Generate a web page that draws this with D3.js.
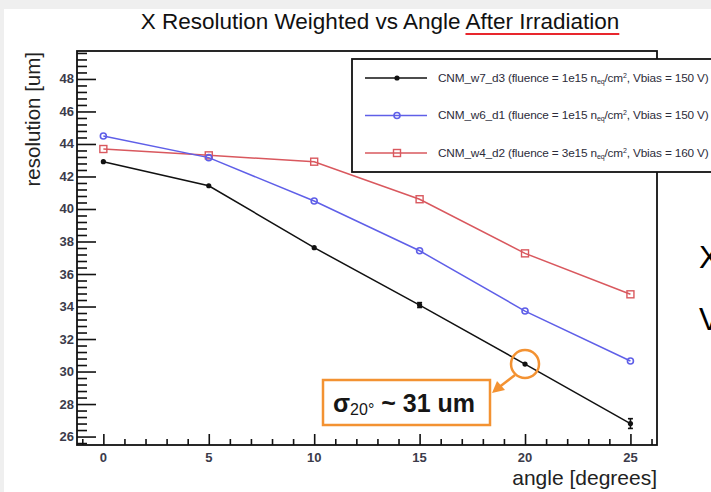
<!DOCTYPE html>
<html>
<head>
<meta charset="utf-8">
<title>X Resolution Weighted vs Angle</title>
<script src="https://d3js.org/d3.v7.min.js"></script>
<style>
  body { margin: 0; background: #fff; }
  svg { display: block; font-family: "Liberation Sans", Arial, sans-serif; }
</style>
</head>
<body>
<svg class="chart"></svg>
<script>
// ---- data ----
var angles = [0, 5, 10, 15, 20, 25];
var w7d3 = [42.91, 41.43, 37.62, 34.09, 30.46, 26.8];
var w7d3Err = [0.05, 0.05, 0.05, 0.15, 0.1, 0.3];
var w6d1 = [44.49, 43.16, 40.49, 37.43, 33.72, 30.65];
var w4d2 = [43.69, 43.3, 42.91, 40.6, 37.27, 34.75];

var seriesNames = ["CNM_w7_d3", "CNM_w6_d1", "CNM_w4_d2"];
var fluences = ["1e15", "1e15", "3e15"];
var vbias = ["150", "150", "160"];

var xMajor = [0, 5, 10, 15, 20, 25];
var yMajor = [26, 28, 30, 32, 34, 36, 38, 40, 42, 44, 46, 48];

var svgWidth = 711, svgHeight = 492;
var plot = {left: 77, right: 657, top: 51, bottom: 445};

var svg = d3.select(".chart").attr("width", svgWidth).attr("height", svgHeight);

// slide background with a faint edge
svg.append("rect").attr("width", svgWidth).attr("height", svgHeight).attr("fill", "#efefef");
svg.append("rect").attr("x", 4).attr("y", 9).attr("width", svgWidth).attr("height", svgHeight).attr("fill", "#fff");

var xScale = d3.scaleLinear().domain([-1.25, 26.26]).range([plot.left, plot.right]);
var yScale = d3.scaleLinear().domain([25.48, 49.72]).range([plot.bottom, plot.top]);

// title, with the red underline under "After Irradiation"
var titleText = "X Resolution Weighted vs Angle After Irradiation";
var title = svg.append("text")
    .attr("x", 380).attr("y", 29)
    .attr("text-anchor", "middle")
    .attr("font-size", 22.5)
    .attr("fill", "#111")
    .text(titleText);
var tNode = title.node();
var cut = titleText.indexOf("After");
var startX = tNode.getStartPositionOfChar(cut).x;
var endX = tNode.getEndPositionOfChar(titleText.length - 1).x;
svg.append("line")
    .attr("x1", startX).attr("x2", endX).attr("y1", 34).attr("y2", 34)
    .attr("stroke", "#e8262d").attr("stroke-width", 2.2);

// frame
svg.append("rect")
    .attr("x", plot.left).attr("y", plot.top)
    .attr("width", plot.right - plot.left).attr("height", plot.bottom - plot.top)
    .attr("fill", "none").attr("stroke", "#111").attr("stroke-width", 1.8);

// y axis: ticks point inward
var yMinor = d3.range(25.6, 49.7, 0.4).filter(function(v) { return Math.abs(v / 2 - Math.round(v / 2)) > 0.01; });
var yAxisMinor = d3.axisRight(yScale).tickValues(yMinor).tickSize(10).tickFormat("");
var yAxisMajor = d3.axisRight(yScale).tickValues(yMajor).tickSize(19).tickFormat("");
[yAxisMinor, yAxisMajor].forEach(function(ax) {
  var g = svg.append("g").attr("transform", "translate(" + plot.left + ",0)").call(ax);
  g.select(".domain").remove();
  g.selectAll("line").attr("stroke", "#111").attr("stroke-width", 1.6);
});
svg.append("g").selectAll("text").data(yMajor).enter().append("text")
    .attr("x", plot.left - 3).attr("y", function(d) { return yScale(d) + 4.5; })
    .attr("text-anchor", "end").attr("font-size", 13).attr("font-weight", "bold")
    .attr("fill", "#3b3b4a")
    .text(function(d) { return d; });

// x axis: ticks point up
var xMinor = d3.range(-1, 27, 1).filter(function(v) { return v % 5 !== 0; });
var xAxisMinor = d3.axisTop(xScale).tickValues(xMinor).tickSize(6).tickFormat("");
var xAxisMajor = d3.axisTop(xScale).tickValues(xMajor).tickSize(11).tickFormat("");
[xAxisMinor, xAxisMajor].forEach(function(ax) {
  var g = svg.append("g").attr("transform", "translate(0," + plot.bottom + ")").call(ax);
  g.select(".domain").remove();
  g.selectAll("line").attr("stroke", "#111").attr("stroke-width", 1.6);
});
svg.append("g").selectAll("text").data(xMajor).enter().append("text")
    .attr("x", function(d) { return xScale(d); }).attr("y", plot.bottom + 17)
    .attr("text-anchor", "middle").attr("font-size", 13).attr("font-weight", "bold")
    .attr("fill", "#3b3b4a")
    .text(function(d) { return d; });

// axis titles
svg.append("text")
    .attr("transform", "translate(40," + (plot.top + 1) + ") rotate(-90)")
    .attr("text-anchor", "end").attr("font-size", 20.5).attr("fill", "#222")
    .text("resolution [um]");
svg.append("text")
    .attr("x", plot.right).attr("y", 485)
    .attr("text-anchor", "end").attr("font-size", 21).attr("fill", "#222")
    .text("angle [degrees]");

// series
var series = [
  {name: seriesNames[0], values: w7d3, errs: w7d3Err, color: "#111111", marker: "dot"},
  {name: seriesNames[1], values: w6d1, errs: null, color: "#5f5fe8", marker: "circle"},
  {name: seriesNames[2], values: w4d2, errs: null, color: "#d9585e", marker: "square"}
];

var line = d3.line()
    .x(function(d) { return xScale(d[0]); })
    .y(function(d) { return yScale(d[1]); });

function drawMarker(g, type, color) {
  if (type === "dot") {
    g.append("circle").attr("r", 2.6).attr("fill", color);
  } else if (type === "circle") {
    g.append("circle").attr("r", 3).attr("fill", "none").attr("stroke", color).attr("stroke-width", 1.6);
  } else {
    g.append("rect").attr("x", -3.5).attr("y", -3.5).attr("width", 7).attr("height", 7)
        .attr("fill", "none").attr("stroke", color).attr("stroke-width", 1.4);
  }
}

series.slice().reverse().forEach(function(s) {
  var pts = angles.map(function(a, i) { return [a, s.values[i]]; });
  var g = svg.append("g");
  g.append("path").datum(pts).attr("d", line)
      .attr("fill", "none").attr("stroke", s.color).attr("stroke-width", 1.5);
  if (s.errs) {
    pts.forEach(function(p, i) {
      var x = xScale(p[0]), y1 = yScale(p[1] - s.errs[i]), y2 = yScale(p[1] + s.errs[i]);
      g.append("line").attr("x1", x).attr("x2", x).attr("y1", y1).attr("y2", y2)
          .attr("stroke", s.color).attr("stroke-width", 1.6);
      if (s.errs[i] > 0.1) {
        [y1, y2].forEach(function(y) {
          g.append("line").attr("x1", x - 2.5).attr("x2", x + 2.5).attr("y1", y).attr("y2", y)
              .attr("stroke", s.color).attr("stroke-width", 1.6);
        });
      }
    });
  }
  pts.forEach(function(p) {
    var m = g.append("g").attr("transform", "translate(" + xScale(p[0]) + "," + yScale(p[1]) + ")");
    drawMarker(m, s.marker, s.color);
  });
});

// legend
var legend = svg.append("g").attr("transform", "translate(352,59)");
legend.append("rect").attr("width", 380).attr("height", 113)
    .attr("fill", "#fff").attr("stroke", "#111").attr("stroke-width", 1.8);
series.forEach(function(s, i) {
  var y = 19 + i * 37.5;
  var row = legend.append("g").attr("transform", "translate(0," + y + ")");
  row.append("line").attr("x1", 13).attr("x2", 75).attr("stroke", s.color).attr("stroke-width", 1.5);
  var m = row.append("g").attr("transform", "translate(45,0)");
  drawMarker(m, s.marker, s.color);
  var t = row.append("text").attr("x", 86).attr("y", 3.5).attr("font-size", 11.8)
      .attr("fill", "#2c2c3a").attr("letter-spacing", -0.15);
  t.append("tspan").text(s.name + " (fluence = " + fluences[i] + " n");
  t.append("tspan").attr("font-size", 7).attr("dy", 2).text("eq");
  t.append("tspan").attr("dy", -2).text("/cm");
  t.append("tspan").attr("font-size", 7).attr("dy", -4).text("2");
  t.append("tspan").attr("dy", 4).text(", Vbias = " + vbias[i] + " V)");
});

// annotation
var orange = "#f39232";
var hx = xScale(20), hy = yScale(w7d3[4]);
svg.append("circle").attr("cx", hx).attr("cy", hy).attr("r", 14)
    .attr("fill", "none").attr("stroke", orange).attr("stroke-width", 2.5);
svg.append("line").attr("x1", hx - 10).attr("y1", hy + 11).attr("x2", hx - 27).attr("y2", hy + 24)
    .attr("stroke", orange).attr("stroke-width", 2.5);
svg.append("path")
    .attr("d", "M" + (hx - 33) + "," + (hy + 29) + " l5,-12 l8,9 z")
    .attr("fill", orange);
svg.append("rect").attr("x", 323).attr("y", 380).attr("width", 167).attr("height", 45)
    .attr("fill", "#fff").attr("stroke", orange).attr("stroke-width", 2.5);
var ann = svg.append("text").attr("x", 333).attr("y", 412)
    .attr("font-size", 25).attr("font-weight", "bold").attr("fill", "#161616");
ann.append("tspan").text("σ");
ann.append("tspan").attr("font-size", 16).attr("font-weight", "normal").attr("dy", 3).text("20°");
ann.append("tspan").attr("dy", -3).text(" ~ 31 um");

// slide text cut off on the right, as in the source slide
svg.append("text").attr("x", 699).attr("y", 268).attr("font-size", 31).attr("fill", "#000").text("X");
svg.append("text").attr("x", 699).attr("y", 330).attr("font-size", 31).attr("fill", "#000").text("V");
</script>
</body>
</html>
